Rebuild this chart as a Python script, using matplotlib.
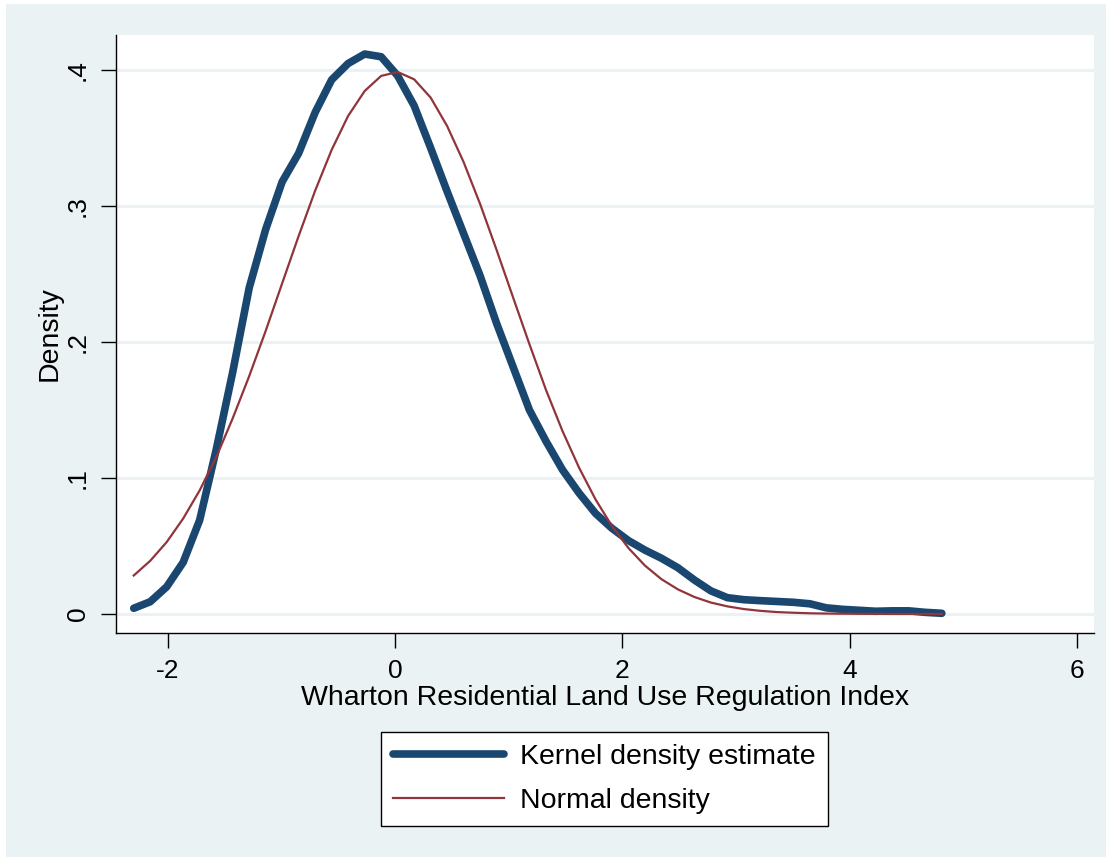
import numpy as np
import matplotlib
matplotlib.use("Agg")
import matplotlib.pyplot as plt
from matplotlib.patches import Rectangle

plt.rcParams['font.family'] = ['Liberation Sans', 'DejaVu Sans']

#---------------------------data---------------------------------
# evaluation points of the kernel density
x_pts = [-2.300, -2.155, -2.010, -1.865, -1.720, -1.574, -1.429, -1.284, -1.139, -0.994,
         -0.849, -0.704, -0.559, -0.414, -0.268, -0.123, 0.022, 0.167, 0.312, 0.457,
         0.602, 0.747, 0.892, 1.037, 1.182, 1.328, 1.473, 1.618, 1.763, 1.908,
         2.053, 2.198, 2.343, 2.488, 2.633, 2.778, 2.923, 3.069, 3.214, 3.359,
         3.504, 3.649, 3.794, 3.939, 4.084, 4.229, 4.374, 4.519, 4.664, 4.810]
kernel_y = [0.0042, 0.009, 0.020, 0.038, 0.069, 0.121, 0.178, 0.240, 0.283, 0.318,
            0.339, 0.369, 0.393, 0.405, 0.412, 0.410, 0.396, 0.374, 0.343, 0.311,
            0.280, 0.249, 0.214, 0.182, 0.150, 0.127, 0.106, 0.089, 0.074, 0.063,
            0.054, 0.047, 0.041, 0.034, 0.025, 0.017, 0.012, 0.0105, 0.0098, 0.0092,
            0.0086, 0.0075, 0.0045, 0.0034, 0.0027, 0.0020, 0.0023, 0.0023, 0.0012, 0.0005]
normal_y = [0.0283, 0.0391, 0.0529, 0.0702, 0.0909, 0.1154, 0.1440, 0.1750, 0.2083, 0.2433,
            0.2781, 0.3114, 0.3414, 0.3664, 0.3848, 0.3959, 0.3988, 0.3934, 0.3800, 0.3591,
            0.3326, 0.3018, 0.2680, 0.2331, 0.1984, 0.1647, 0.1345, 0.1077, 0.0843, 0.0646,
            0.0485, 0.0356, 0.0256, 0.0181, 0.0125, 0.0084, 0.0056, 0.0036, 0.0023, 0.0014,
            0.0009, 0.0005, 0.0003, 0.0002, 0.0001, 0.0001, 0.0000, 0.0000, 0.0000, 0.0000]
x_ticks = [-2, 0, 2, 4, 6]
y_ticks = [0, 0.1, 0.2, 0.3, 0.4]
y_ticklabels = ["0", ".1", ".2", ".3", ".4"]
#----------------------------------------------------------------

bg = "#EAF2F3"
fig = plt.figure(figsize=(11.12, 8.61), dpi=100, facecolor="white")
# stata style outer panel, kept behind the axes
fig.patches.append(Rectangle((6/1112, 4/861), 1100/1112, 853/861,
                             transform=fig.transFigure, facecolor=bg,
                             edgecolor="none", zorder=-10))

ax = fig.add_axes([116/1112, 1-633/861, 978/1112, 598/861])
ax.set_facecolor("white")

ax.plot(x_pts, kernel_y, color="#1A476F", lw=5.5, solid_capstyle="round",
        solid_joinstyle="round", label="Kernel density estimate", zorder=3)
ax.plot(x_pts, normal_y, color="#90353B", lw=1.6, solid_joinstyle="round",
        label="Normal density", zorder=4)

ax.set_xlim(-2.456, 6.149)
ax.set_ylim(-0.014, 0.426)
ax.set_xticks(x_ticks)
ax.set_xticklabels([str(t) for t in x_ticks])
ax.set_yticks(y_ticks)
ax.set_yticklabels(y_ticklabels, rotation=90, va="center")

ax.yaxis.grid(True, color=bg, lw=2.2)
ax.set_axisbelow(True)
for s in ["top", "right"]:
    ax.spines[s].set_visible(False)
for s in ["left", "bottom"]:
    ax.spines[s].set_linewidth(1.0)
    ax.spines[s].set_color("black")
ax.tick_params(axis="both", direction="out", length=11, width=1.0,
               labelsize=19, pad=8)

ax.set_xlabel("Wharton Residential Land Use Regulation Index", fontsize=20.5, labelpad=1)
ax.set_ylabel("Density", fontsize=20.5, labelpad=2)

leg = fig.legend(loc="center", bbox_to_anchor=(604.5/1112, 1-779/861),
                 fontsize=20.5, handlelength=3.9, handletextpad=0.55,
                 labelspacing=0.6, borderpad=0.45, fancybox=False,
                 frameon=True, edgecolor="black", framealpha=1)
leg.get_frame().set_linewidth(1.0)

fig.savefig("out.png", dpi=100, facecolor="white")
